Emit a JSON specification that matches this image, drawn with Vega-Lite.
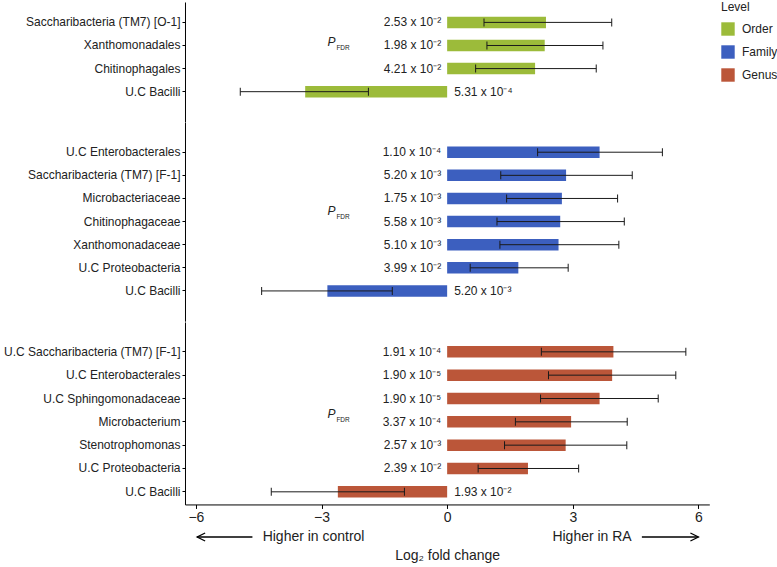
{
  "$schema": "https://vega.github.io/schema/vega-lite/v6.json",
  "padding": {"left": 3, "top": 2, "right": 0, "bottom": 0},
  "spacing": 0,
  "config": {
    "font": "Liberation Sans",
    "view": {"stroke": null},
    "axis": {"domainColor": "#000", "tickColor": "#000", "labelColor": "#222", "titleColor": "#222", "grid": false, "titleFontWeight": "normal"},
    "legend": {"orient": "right", "offset": 11, "padding": 0, "titleFontSize": 12, "titleFontWeight": "normal", "labelFontSize": 12, "symbolType": "square", "symbolSize": 180, "symbolStrokeWidth": 0, "symbolOpacity": 1, "rowPadding": 9, "titlePadding": 8, "labelOffset": 7, "titleColor": "#222", "labelColor": "#222"}
  },
  "datasets": {
    "bars": [
      {"level": "Order", "taxon": "Saccharibacteria (TM7) [O-1]", "lfc": 2.36, "lo": 0.88, "hi": 3.93, "p": "2.53 x 10⁻²"},
      {"level": "Order", "taxon": "Xanthomonadales", "lfc": 2.33, "lo": 0.95, "hi": 3.72, "p": "1.98 x 10⁻²"},
      {"level": "Order", "taxon": "Chitinophagales", "lfc": 2.10, "lo": 0.68, "hi": 3.56, "p": "4.21 x 10⁻²"},
      {"level": "Order", "taxon": "U.C Bacilli", "lfc": -3.39, "lo": -4.94, "hi": -1.88, "p": "5.31 x 10⁻⁴"},
      {"level": "Family", "taxon": "U.C Enterobacterales", "lfc": 3.64, "lo": 2.16, "hi": 5.14, "p": "1.10 x 10⁻⁴"},
      {"level": "Family", "taxon": "Saccharibacteria (TM7) [F-1]", "lfc": 2.84, "lo": 1.28, "hi": 4.42, "p": "5.20 x 10⁻³"},
      {"level": "Family", "taxon": "Microbacteriaceae", "lfc": 2.74, "lo": 1.42, "hi": 4.07, "p": "1.75 x 10⁻³"},
      {"level": "Family", "taxon": "Chitinophagaceae", "lfc": 2.70, "lo": 1.19, "hi": 4.23, "p": "5.58 x 10⁻³"},
      {"level": "Family", "taxon": "Xanthomonadaceae", "lfc": 2.66, "lo": 1.26, "hi": 4.10, "p": "5.10 x 10⁻³"},
      {"level": "Family", "taxon": "U.C Proteobacteria", "lfc": 1.70, "lo": 0.55, "hi": 2.89, "p": "3.99 x 10⁻²"},
      {"level": "Family", "taxon": "U.C Bacilli", "lfc": -2.86, "lo": -4.43, "hi": -1.31, "p": "5.20 x 10⁻³"},
      {"level": "Genus", "taxon": "U.C Saccharibacteria (TM7) [F-1]", "lfc": 3.97, "lo": 2.25, "hi": 5.70, "p": "1.91 x 10⁻⁴"},
      {"level": "Genus", "taxon": "U.C Enterobacterales", "lfc": 3.94, "lo": 2.42, "hi": 5.46, "p": "1.90 x 10⁻⁵"},
      {"level": "Genus", "taxon": "U.C Sphingomonadaceae", "lfc": 3.64, "lo": 2.23, "hi": 5.04, "p": "1.90 x 10⁻⁵"},
      {"level": "Genus", "taxon": "Microbacterium", "lfc": 2.96, "lo": 1.63, "hi": 4.30, "p": "3.37 x 10⁻⁴"},
      {"level": "Genus", "taxon": "Stenotrophomonas", "lfc": 2.83, "lo": 1.37, "hi": 4.29, "p": "2.57 x 10⁻³"},
      {"level": "Genus", "taxon": "U.C Proteobacteria", "lfc": 1.93, "lo": 0.74, "hi": 3.14, "p": "2.39 x 10⁻²"},
      {"level": "Genus", "taxon": "U.C Bacilli", "lfc": -2.61, "lo": -4.20, "hi": -1.02, "p": "1.93 x 10⁻²"}
    ]
  },
  "resolve": {"scale": {"y": "independent", "x": "independent", "color": "shared"}},
  "vconcat": [
    {
      "width": 524.3, "height": 119.7,
      "data": {"name": "bars"},
      "transform": [{"filter": "datum.level === 'Order'"}],
      "encoding": {
        "y": {"field": "taxon", "type": "nominal", "sort": null, "title": null,
              "scale": {"paddingInner": 0, "paddingOuter": 0.592, "align": 0.324},
              "axis": {"labelFontSize": 12, "tickSize": 3, "labelPadding": 2}}
      },
      "layer": [
        {"mark": {"type": "bar", "size": 11.5},
         "encoding": {
           "x": {"field": "lfc", "type": "quantitative", "scale": {"domain": [-6.26, 6.26], "nice": false}, "axis": null},
           "color": {"field": "level", "type": "nominal", "title": "Level", "scale": {"domain": ["Order", "Family", "Genus"], "range": ["#9cbb3a", "#3c5fbf", "#bb5639"]}}}},
        {"mark": {"type": "rule", "color": "#1a1a1a", "strokeWidth": 1},
         "encoding": {"x": {"field": "lo", "type": "quantitative", "axis": null}, "x2": {"field": "hi"}}},
        {"mark": {"type": "tick", "orient": "vertical", "size": 8, "thickness": 1, "color": "#1a1a1a", "opacity": 1},
         "encoding": {"x": {"field": "lo", "type": "quantitative", "axis": null}}},
        {"mark": {"type": "tick", "orient": "vertical", "size": 8, "thickness": 1, "color": "#1a1a1a", "opacity": 1},
         "encoding": {"x": {"field": "hi", "type": "quantitative", "axis": null}}},
        {"transform": [{"filter": "datum.lfc > 0"}],
         "mark": {"type": "text", "align": "right", "dx": -6, "fontSize": 12, "color": "#222"},
         "encoding": {"x": {"datum": 0, "type": "quantitative", "axis": null}, "text": {"field": "p"}}},
        {"transform": [{"filter": "datum.lfc < 0"}],
         "mark": {"type": "text", "align": "left", "dx": 7, "fontSize": 12, "color": "#222"},
         "encoding": {"x": {"datum": 0, "type": "quantitative", "axis": null}, "text": {"field": "p"}}},
        {"transform": [{"filter": "datum.taxon === 'Xanthomonadales'"}],
         "mark": {"type": "text", "text": "P", "fontStyle": "italic", "fontSize": 12, "align": "left", "dy": -3, "color": "#222"},
         "encoding": {"x": {"datum": -2.86, "type": "quantitative", "axis": null}}},
        {"transform": [{"filter": "datum.taxon === 'Xanthomonadales'"}],
         "mark": {"type": "text", "text": "FDR", "fontSize": 6.5, "align": "left", "dx": 9, "dy": 3, "color": "#222"},
         "encoding": {"x": {"datum": -2.86, "type": "quantitative", "axis": null}}}
      ]
    },
    {
      "width": 524.3, "height": 199.15,
      "data": {"name": "bars"},
      "transform": [{"filter": "datum.level === 'Family'"}],
      "encoding": {
        "y": {"field": "taxon", "type": "nominal", "sort": null, "title": null,
              "scale": {"paddingInner": 0, "paddingOuter": 0.807, "align": 0.5},
              "axis": {"labelFontSize": 12, "tickSize": 3, "labelPadding": 2}}
      },
      "layer": [
        {"mark": {"type": "bar", "size": 11.5},
         "encoding": {
           "x": {"field": "lfc", "type": "quantitative", "scale": {"domain": [-6.26, 6.26], "nice": false}, "axis": null},
           "color": {"field": "level", "type": "nominal", "title": "Level", "scale": {"domain": ["Order", "Family", "Genus"], "range": ["#9cbb3a", "#3c5fbf", "#bb5639"]}}}},
        {"mark": {"type": "rule", "color": "#1a1a1a", "strokeWidth": 1},
         "encoding": {"x": {"field": "lo", "type": "quantitative", "axis": null}, "x2": {"field": "hi"}}},
        {"mark": {"type": "tick", "orient": "vertical", "size": 8, "thickness": 1, "color": "#1a1a1a", "opacity": 1},
         "encoding": {"x": {"field": "lo", "type": "quantitative", "axis": null}}},
        {"mark": {"type": "tick", "orient": "vertical", "size": 8, "thickness": 1, "color": "#1a1a1a", "opacity": 1},
         "encoding": {"x": {"field": "hi", "type": "quantitative", "axis": null}}},
        {"transform": [{"filter": "datum.lfc > 0"}],
         "mark": {"type": "text", "align": "right", "dx": -6, "fontSize": 12, "color": "#222"},
         "encoding": {"x": {"datum": 0, "type": "quantitative", "axis": null}, "text": {"field": "p"}}},
        {"transform": [{"filter": "datum.lfc < 0"}],
         "mark": {"type": "text", "align": "left", "dx": 7, "fontSize": 12, "color": "#222"},
         "encoding": {"x": {"datum": 0, "type": "quantitative", "axis": null}, "text": {"field": "p"}}},
        {"transform": [{"filter": "datum.taxon === 'Chitinophagaceae'"}],
         "mark": {"type": "text", "text": "P", "fontStyle": "italic", "fontSize": 12, "align": "left", "dy": -11, "color": "#222"},
         "encoding": {"x": {"datum": -2.86, "type": "quantitative", "axis": null}}},
        {"transform": [{"filter": "datum.taxon === 'Chitinophagaceae'"}],
         "mark": {"type": "text", "text": "FDR", "fontSize": 6.5, "align": "left", "dx": 9, "dy": -5, "color": "#222"},
         "encoding": {"x": {"datum": -2.86, "type": "quantitative", "axis": null}}}
      ]
    },
    {
      "width": 524.3, "height": 182.45,
      "data": {"name": "bars"},
      "transform": [{"filter": "datum.level === 'Genus'"}],
      "encoding": {
        "y": {"field": "taxon", "type": "nominal", "sort": null, "title": null,
              "scale": {"paddingInner": 0, "paddingOuter": 0.41, "align": 0.95},
              "axis": {"labelFontSize": 12, "tickSize": 3, "labelPadding": 2}}
      },
      "layer": [
        {"mark": {"type": "bar", "size": 11.5},
         "encoding": {
           "x": {"field": "lfc", "type": "quantitative", "title": null, "scale": {"domain": [-6.26, 6.26], "nice": false},
                 "axis": {"values": [-6, -3, 0, 3, 6], "title": null, "labelFontSize": 14, "tickSize": 4, "labelPadding": 2, "labelFlush": false}},
           "color": {"field": "level", "type": "nominal", "title": "Level", "scale": {"domain": ["Order", "Family", "Genus"], "range": ["#9cbb3a", "#3c5fbf", "#bb5639"]}}}},
        {"mark": {"type": "rule", "color": "#1a1a1a", "strokeWidth": 1},
         "encoding": {"x": {"field": "lo", "type": "quantitative", "title": null,
                            "axis": {"values": [-6, -3, 0, 3, 6], "title": null, "labelFontSize": 14, "tickSize": 4, "labelPadding": 2, "labelFlush": false}},
                      "x2": {"field": "hi"}}},
        {"mark": {"type": "tick", "orient": "vertical", "size": 8, "thickness": 1, "color": "#1a1a1a", "opacity": 1},
         "encoding": {"x": {"field": "lo", "type": "quantitative", "title": null,
                            "axis": {"values": [-6, -3, 0, 3, 6], "title": null, "labelFontSize": 14, "tickSize": 4, "labelPadding": 2, "labelFlush": false}}}},
        {"mark": {"type": "tick", "orient": "vertical", "size": 8, "thickness": 1, "color": "#1a1a1a", "opacity": 1},
         "encoding": {"x": {"field": "hi", "type": "quantitative", "title": null,
                            "axis": {"values": [-6, -3, 0, 3, 6], "title": null, "labelFontSize": 14, "tickSize": 4, "labelPadding": 2, "labelFlush": false}}}},
        {"transform": [{"filter": "datum.lfc > 0"}],
         "mark": {"type": "text", "align": "right", "dx": -6, "fontSize": 12, "color": "#222"},
         "encoding": {"x": {"datum": 0, "type": "quantitative", "title": null,
                            "axis": {"values": [-6, -3, 0, 3, 6], "title": null, "labelFontSize": 14, "tickSize": 4, "labelPadding": 2, "labelFlush": false}},
                      "text": {"field": "p"}}},
        {"transform": [{"filter": "datum.lfc < 0"}],
         "mark": {"type": "text", "align": "left", "dx": 7, "fontSize": 12, "color": "#222"},
         "encoding": {"x": {"datum": 0, "type": "quantitative", "title": null,
                            "axis": {"values": [-6, -3, 0, 3, 6], "title": null, "labelFontSize": 14, "tickSize": 4, "labelPadding": 2, "labelFlush": false}},
                      "text": {"field": "p"}}},
        {"transform": [{"filter": "datum.taxon === 'Microbacterium'"}],
         "mark": {"type": "text", "text": "P", "fontStyle": "italic", "fontSize": 12, "align": "left", "dy": -8, "color": "#222"},
         "encoding": {"x": {"datum": -2.86, "type": "quantitative", "title": null,
                            "axis": {"values": [-6, -3, 0, 3, 6], "title": null, "labelFontSize": 14, "tickSize": 4, "labelPadding": 2, "labelFlush": false}}}},
        {"transform": [{"filter": "datum.taxon === 'Microbacterium'"}],
         "mark": {"type": "text", "text": "FDR", "fontSize": 6.5, "align": "left", "dx": 9, "dy": -2, "color": "#222"},
         "encoding": {"x": {"datum": -2.86, "type": "quantitative", "title": null,
                            "axis": {"values": [-6, -3, 0, 3, 6], "title": null, "labelFontSize": 14, "tickSize": 4, "labelPadding": 2, "labelFlush": false}}}}
      ]
    },
    {
      "width": 524.3, "height": 24,
      "data": {"values": [{"note": "direction"}]},
      "layer": [
        {"mark": {"type": "text", "text": "Higher in control", "fontSize": 14, "color": "#222"},
         "encoding": {"x": {"datum": -3.19, "type": "quantitative", "scale": {"domain": [-6.26, 6.26], "nice": false},
                            "axis": {"title": "Log₂ fold change", "domain": false, "ticks": false, "labels": false, "titleFontSize": 14, "titlePadding": 0}}}},
        {"mark": {"type": "text", "text": "Higher in RA", "fontSize": 14, "color": "#222"},
         "encoding": {"x": {"datum": 3.46, "type": "quantitative",
                            "axis": {"title": "Log₂ fold change", "domain": false, "ticks": false, "labels": false, "titleFontSize": 14, "titlePadding": 0}}}},
        {"mark": {"type": "rule", "strokeWidth": 1.3, "color": "#000"},
         "encoding": {"x": {"datum": -5.97, "type": "quantitative",
                            "axis": {"title": "Log₂ fold change", "domain": false, "ticks": false, "labels": false, "titleFontSize": 14, "titlePadding": 0}},
                      "x2": {"datum": -4.65}}},
        {"mark": {"type": "rule", "strokeWidth": 1.3, "color": "#000"},
         "encoding": {"x": {"datum": 4.65, "type": "quantitative",
                            "axis": {"title": "Log₂ fold change", "domain": false, "ticks": false, "labels": false, "titleFontSize": 14, "titlePadding": 0}},
                      "x2": {"datum": 6.0}}},
        {"mark": {"type": "point", "shape": "M1,-0.5L0,0L1,0.5", "size": 256, "filled": false, "strokeWidth": 1.3, "color": "#000", "opacity": 1},
         "encoding": {"x": {"datum": -5.97, "type": "quantitative",
                            "axis": {"title": "Log₂ fold change", "domain": false, "ticks": false, "labels": false, "titleFontSize": 14, "titlePadding": 0}}}},
        {"mark": {"type": "point", "shape": "M-1,-0.5L0,0L-1,0.5", "size": 256, "filled": false, "strokeWidth": 1.3, "color": "#000", "opacity": 1},
         "encoding": {"x": {"datum": 6.0, "type": "quantitative",
                            "axis": {"title": "Log₂ fold change", "domain": false, "ticks": false, "labels": false, "titleFontSize": 14, "titlePadding": 0}}}}
      ]
    }
  ]
}
